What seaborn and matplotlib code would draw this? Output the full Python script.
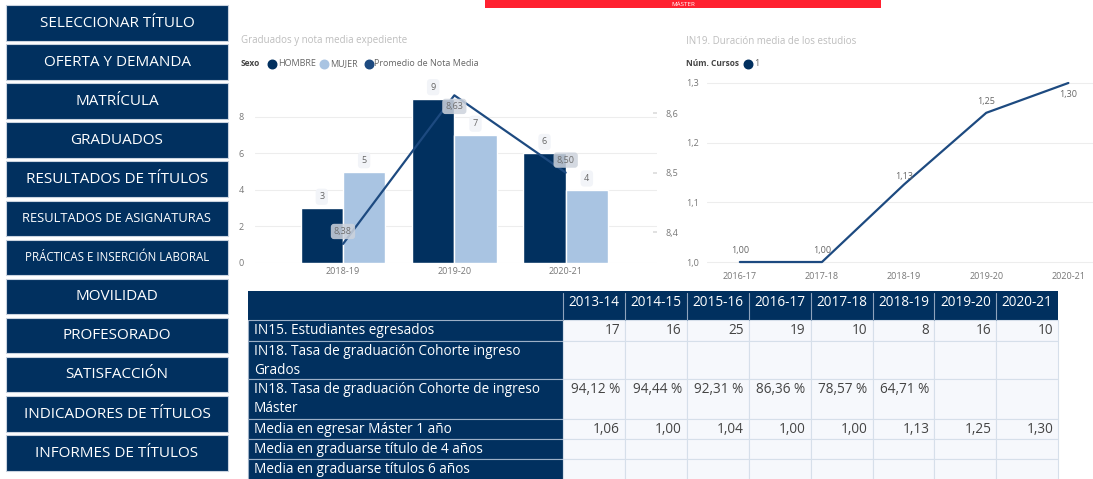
import numpy as np
import pandas as pd
import matplotlib
matplotlib.use('Agg')
import matplotlib.pyplot as plt
import matplotlib.patches as mpatches
import seaborn as sns

sns.set_theme(style='white')
plt.rcParams['font.family'] = ['Open Sans', 'DejaVu Sans']

NAVY = '#01305F'
LIGHT = '#A9C4E2'
LINE = '#1D4A80'
CELL = '#F6F8FC'
CELL_EDGE = '#D6DFEA'
TICK = '#777777'

# ── data ─────────────────────────────────────────────────────
menu = ['SELECCIONAR TÍTULO', 'OFERTA Y DEMANDA', 'MATRÍCULA', 'GRADUADOS',
        'RESULTADOS DE TÍTULOS', 'RESULTADOS DE ASIGNATURAS',
        'PRÁCTICAS E INSERCIÓN LABORAL', 'MOVILIDAD', 'PROFESORADO',
        'SATISFACCIÓN', 'INDICADORES DE TÍTULOS', 'INFORMES DE TÍTULOS']

cursos_grad = ['2018-19', '2019-20', '2020-21']
hombre = [3, 9, 6]
mujer = [5, 7, 4]
nota_media = [8.38, 8.63, 8.50]

cursos_dur = ['2016-17', '2017-18', '2018-19', '2019-20', '2020-21']
duracion = [1.00, 1.00, 1.13, 1.25, 1.30]

table_years = ['2013-14', '2014-15', '2015-16', '2016-17', '2017-18',
               '2018-19', '2019-20', '2020-21']
table_rows = ['IN15. Estudiantes egresados',
              'IN18. Tasa de graduación Cohorte ingreso\nGrados',
              'IN18. Tasa de graduación Cohorte de ingreso\nMáster',
              'Media en egresar Máster 1 año',
              'Media en graduarse título de 4 años',
              'Media en graduarse títulos 6 años']
egresados = [17, 16, 25, 19, 10, 8, 16, 10]
tasa_grados = [None] * 8
tasa_master = [94.12, 94.44, 92.31, 86.36, 78.57, 64.71, None, None]
media_master = [1.06, 1.00, 1.04, 1.00, 1.00, 1.13, 1.25, 1.30]
media_4 = [None] * 8
media_6 = [None] * 8


def comma(v, d=2):
    return f'{v:.{d}f}'.replace('.', ',')


table_vals = [
    [str(v) for v in egresados],
    ['' if v is None else comma(v) + ' %' for v in tasa_grados],
    ['' if v is None else comma(v) + ' %' for v in tasa_master],
    ['' if v is None else comma(v) for v in media_master],
    ['' if v is None else comma(v) for v in media_4],
    ['' if v is None else comma(v) for v in media_6],
]

# ── figure / pixel helpers ───────────────────────────────────
W, H = 1093, 479
fig = plt.figure(figsize=(W / 100, H / 100), dpi=100, facecolor='white')


def box(x0, y0, x1, y1):
    return [x0 / W, 1 - y1 / H, (x1 - x0) / W, (y1 - y0) / H]


bg = fig.add_axes([0, 0, 1, 1], zorder=-1)
bg.set_xlim(0, W)
bg.set_ylim(H, 0)
bg.axis('off')

# -- nav buttons ----------------------------------------------
menu_sizes = [11, 11, 11, 11, 11, 9.3, 8.3, 11, 11, 11, 11, 11]
for i, (label, fs) in enumerate(zip(menu, menu_sizes)):
    top = 5 + i * 39.1
    bg.add_patch(mpatches.Rectangle((6, top), 222, 35.5, facecolor=NAVY,
                                    edgecolor='#C9D3DF', linewidth=0.8))
    bg.text(117, top + 18, label, color='white', fontsize=fs,
            ha='center', va='center')

# -- red banner ----------------------------------------------
bg.add_patch(mpatches.Rectangle((485, -2), 396, 10, facecolor='#FF2130',
                                edgecolor='none'))
bg.text(683, 4, 'MÁSTER', color='white', fontsize=4.5, ha='center', va='center')

# -- chart 1: graduados ---------------------------------------
fig.text(241 / W, 1 - 41 / H, 'Graduados y nota media expediente',
         fontsize=7, color='#BDBDBD', va='center')
leg_y = 1 - 64 / H
fig.text(241 / W, leg_y, 'Sexo', fontsize=6, color='#444444',
         fontweight='bold', va='center')
for cx, tx, col, lab in [(272, 278, NAVY, 'HOMBRE'), (324, 330, LIGHT, 'MUJER'),
                         (369, 374, LINE, 'Promedio de Nota Media')]:
    bg.scatter([cx], [64], s=38, color=col, zorder=3)
    fig.text(tx / W, leg_y, lab, fontsize=6.5, color='#666666', va='center')

df_bar = pd.DataFrame({
    'Curso': cursos_grad * 2,
    'Graduados': hombre + mujer,
    'Sexo': ['HOMBRE'] * len(hombre) + ['MUJER'] * len(mujer),
})

ax1 = fig.add_axes(box(255, 84, 657, 263))
sns.barplot(data=df_bar, x='Curso', y='Graduados', hue='Sexo',
            palette={'HOMBRE': NAVY, 'MUJER': LIGHT}, width=0.76, gap=0,
            saturation=1, ax=ax1, legend=False)
ax1.set_xlim(-0.79, 2.82)
ax1.set_ylim(0, 9.8)
ax1.set_yticks([0, 2, 4, 6, 8])
ax1.grid(axis='y', color='#EDEDED', linewidth=0.8)
ax1.set_axisbelow(True)
for s in ax1.spines.values():
    s.set_visible(False)
ax1.set_xlabel('')
ax1.set_ylabel('')
ax1.tick_params(axis='y', length=0, pad=8, labelsize=6.5, labelcolor=TICK)
ax1.tick_params(axis='x', length=0, pad=3, labelsize=6.5, labelcolor=TICK)
for cont in ax1.containers:
    ax1.bar_label(cont, padding=5, fontsize=6.5, color='#666666',
                  bbox=dict(boxstyle='round,pad=0.4', fc='#F2F4F8', ec='none'))

ax1b = ax1.twinx()
sns.lineplot(x=np.arange(len(nota_media)), y=nota_media, ax=ax1b,
             color=LINE, linewidth=1.6)
ax1b.set_xlim(-0.79, 2.82)
ax1b.set_ylim(8.348, 8.649)
ax1b.set_yticks([8.4, 8.5, 8.6])
ax1b.set_yticklabels(['8,4', '8,5', '8,6'])
ax1b.tick_params(axis='y', direction='in', length=3, color='#DDDDDD',
                 pad=6, labelsize=6.5, labelcolor=TICK)
ax1b.set_ylabel('')
ax1b.grid(False)
for s in ax1b.spines.values():
    s.set_visible(False)
nota_offsets = [9, -8, 9]
for i, (v, off) in enumerate(zip(nota_media, nota_offsets)):
    ax1b.annotate(comma(v), (i, v), xytext=(0, off), textcoords='offset points',
                  ha='center', va='center', fontsize=6.5, color='#6E6E6E',
                  bbox=dict(boxstyle='round,pad=0.35', fc='#CDD3DC',
                            ec='none', alpha=0.85))

# -- chart 2: duración media ----------------------------------
fig.text(686 / W, 1 - 41 / H, 'IN19. Duración media de los estudios',
         fontsize=7, color='#BDBDBD', va='center')
fig.text(686 / W, leg_y, 'Núm. Cursos', fontsize=6, color='#444444',
         fontweight='bold', va='center')
bg.scatter([748], [64], s=38, color=NAVY, zorder=3)
fig.text(754 / W, leg_y, '1', fontsize=6.5, color='#666666', va='center')

ax2 = fig.add_axes(box(707, 80, 1093, 265))
sns.lineplot(x=np.arange(len(duracion)), y=duracion, ax=ax2, color=LINE,
             linewidth=1.6, clip_on=False)
ax2.set_xlim(-0.40, 4.30)
ax2.set_ylim(0.995, 1.305)
ax2.set_xticks(np.arange(len(cursos_dur)))
ax2.set_xticklabels(cursos_dur)
ax2.set_yticks([1.0, 1.1, 1.2, 1.3])
ax2.set_yticklabels(['1,0', '1,1', '1,2', '1,3'])
ax2.grid(axis='y', color='#EDEDED', linewidth=0.8)
ax2.grid(axis='x', visible=False)
for s in ax2.spines.values():
    s.set_visible(False)
ax2.tick_params(axis='y', length=0, pad=6, labelsize=6.5, labelcolor=TICK)
ax2.tick_params(axis='x', length=0, pad=5, labelsize=6.5, labelcolor=TICK)
dur_offsets = [8, 8, 6, 8, -8]
for i, (v, off) in enumerate(zip(duracion, dur_offsets)):
    ax2.annotate(comma(v), (i, v), xytext=(0, off), textcoords='offset points',
                 ha='center', va='center', fontsize=6.5, color='#666666')

# -- table ----------------------------------------------------
tab_x0, lab_w, col_w = 248, 315, 61.9
head_top, head_h = 291, 29
row_h = [21, 38, 40, 20, 20, 22]
tab_fs = 9.8

bg.add_patch(mpatches.Rectangle((tab_x0, head_top), lab_w + col_w * len(table_years),
                                head_h, facecolor=NAVY, edgecolor='none'))
for j, yr in enumerate(table_years):
    cx0 = tab_x0 + lab_w + j * col_w
    bg.plot([cx0, cx0], [head_top + 2, head_top + head_h], color='#8FA3BC', lw=0.8)
    bg.text(cx0 + col_w / 2, head_top + 11.5, yr, color='white', fontsize=tab_fs,
            ha='center', va='center')

top = head_top + head_h
for r, (label, vals) in enumerate(zip(table_rows, table_vals)):
    h = row_h[r]
    bg.add_patch(mpatches.Rectangle((tab_x0, top), lab_w, h, facecolor=NAVY,
                                    edgecolor='#9DB0C7', linewidth=0.8))
    for k, line in enumerate(label.split('\n')):
        bg.text(tab_x0 + 6, top + 10.5 + 19 * k, line, color='white',
                fontsize=tab_fs, ha='left', va='center')
    for j, v in enumerate(vals):
        cx0 = tab_x0 + lab_w + j * col_w
        bg.add_patch(mpatches.Rectangle((cx0, top), col_w, h, facecolor=CELL,
                                        edgecolor=CELL_EDGE, linewidth=0.8))
        if v:
            bg.text(cx0 + col_w - 5, top + 10.5, v, color='#444444',
                    fontsize=tab_fs, ha='right', va='center')
    top += h

plt.savefig('out.png', dpi=100, facecolor='white')
